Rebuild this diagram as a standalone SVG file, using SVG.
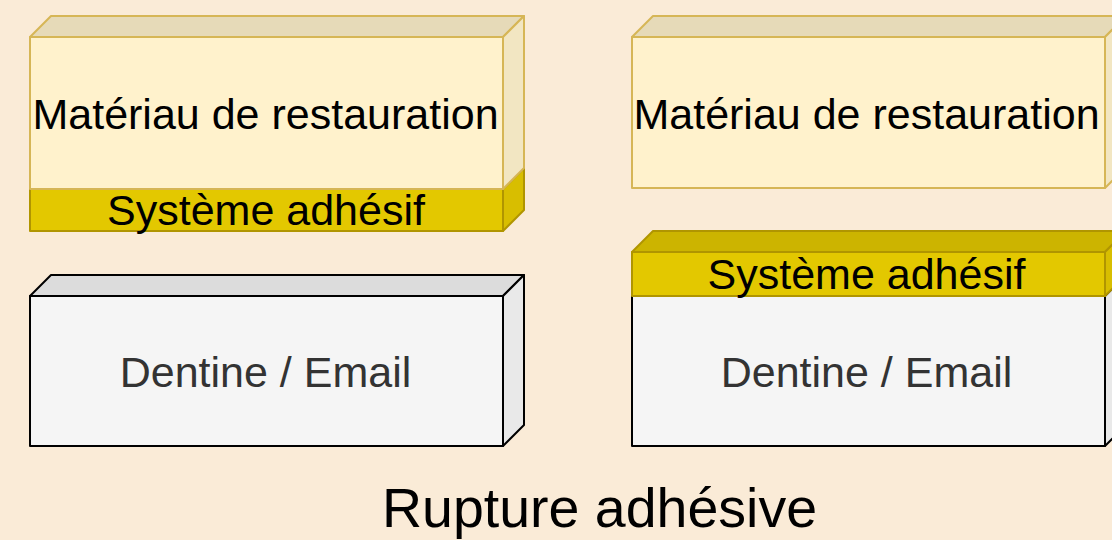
<svg xmlns="http://www.w3.org/2000/svg" width="1112" height="540" viewBox="0 0 1112 540">
  <style>
    .mat-front { fill: #fff2cc; stroke: #d6b656; stroke-width: 2; stroke-linejoin: round; }
    .mat-top { fill: #e6dab8; stroke: #d6b656; stroke-width: 2; stroke-linejoin: round; }
    .mat-side { fill: #f2e6c2; stroke: #d6b656; stroke-width: 2; stroke-linejoin: round; }
    .adh-front { fill: #e3c800; stroke: #b09500; stroke-width: 2; stroke-linejoin: round; }
    .adh-top { fill: #ccb400; stroke: #b09500; stroke-width: 2; stroke-linejoin: round; }
    .adh-side { fill: #d8be00; stroke: #b09500; stroke-width: 2; stroke-linejoin: round; }
    .den-front { fill: #f5f5f5; stroke: #000000; stroke-width: 2; stroke-linejoin: round; }
    .den-top { fill: #dcdcdc; stroke: #000000; stroke-width: 2; stroke-linejoin: round; }
    .den-side { fill: #e9e9e9; stroke: #000000; stroke-width: 2; stroke-linejoin: round; }
    .label { font-family: "Liberation Sans", Arial, sans-serif; font-size: 43px; text-anchor: middle; fill: #000000; }
    .label-grey { fill: #333333; }
    .title { font-family: "Liberation Sans", Arial, sans-serif; font-size: 55.5px; text-anchor: middle; fill: #000000; }
  </style>
  <rect width="1112" height="540" fill="#faebd7"/>

  <!-- left column: adhesive stays bonded to the restoration -->
  <g id="adhesif-gauche">
    <polygon class="adh-top" points="30,189 51,168 524,168 503,189"/>
    <polygon class="adh-side" points="503,189 524,168 524,210 503,231"/>
    <rect class="adh-front" x="30" y="189" width="473" height="42"/>
    <text class="label" x="266" y="225">Système adhésif</text>
  </g>
  <g id="materiau-gauche">
    <polygon class="mat-top" points="30,37 51,16 524,16 503,37"/>
    <polygon class="mat-side" points="503,37 524,16 524,168 503,189"/>
    <rect class="mat-front" x="30" y="37" width="473" height="152"/>
    <text class="label" x="265.5" y="129">Matériau de restauration</text>
  </g>
  <g id="dentine-gauche">
    <polygon class="den-top" points="30,296 51,275 524,275 503,296"/>
    <polygon class="den-side" points="503,296 524,275 524,425 503,446"/>
    <rect class="den-front" x="30" y="296" width="473" height="150"/>
    <text class="label label-grey" x="265.5" y="387">Dentine / Email</text>
  </g>

  <!-- right column: adhesive stays on the tooth -->
  <g id="materiau-droite">
    <polygon class="mat-top" points="632,37 653,16 1126,16 1105,37"/>
    <polygon class="mat-side" points="1105,37 1126,16 1126,167 1105,188"/>
    <rect class="mat-front" x="632" y="37" width="473" height="151"/>
    <text class="label" x="866.5" y="129">Matériau de restauration</text>
  </g>
  <g id="dentine-droite">
    <polygon class="den-top" points="632,296 653,275 1126,275 1105,296"/>
    <polygon class="den-side" points="1105,296 1126,275 1126,425 1105,446"/>
    <rect class="den-front" x="632" y="296" width="473" height="150"/>
    <text class="label label-grey" x="866.5" y="387">Dentine / Email</text>
  </g>
  <g id="adhesif-droite">
    <polygon class="adh-top" points="632,252 653,231 1126,231 1105,252"/>
    <polygon class="adh-side" points="1105,252 1126,231 1126,275 1105,296"/>
    <rect class="adh-front" x="632" y="252" width="473" height="44"/>
    <text class="label" x="866.5" y="289">Système adhésif</text>
  </g>

  <g id="titre">
    <text class="title" x="599.5" y="527">Rupture adhésive</text>
  </g>
</svg>
